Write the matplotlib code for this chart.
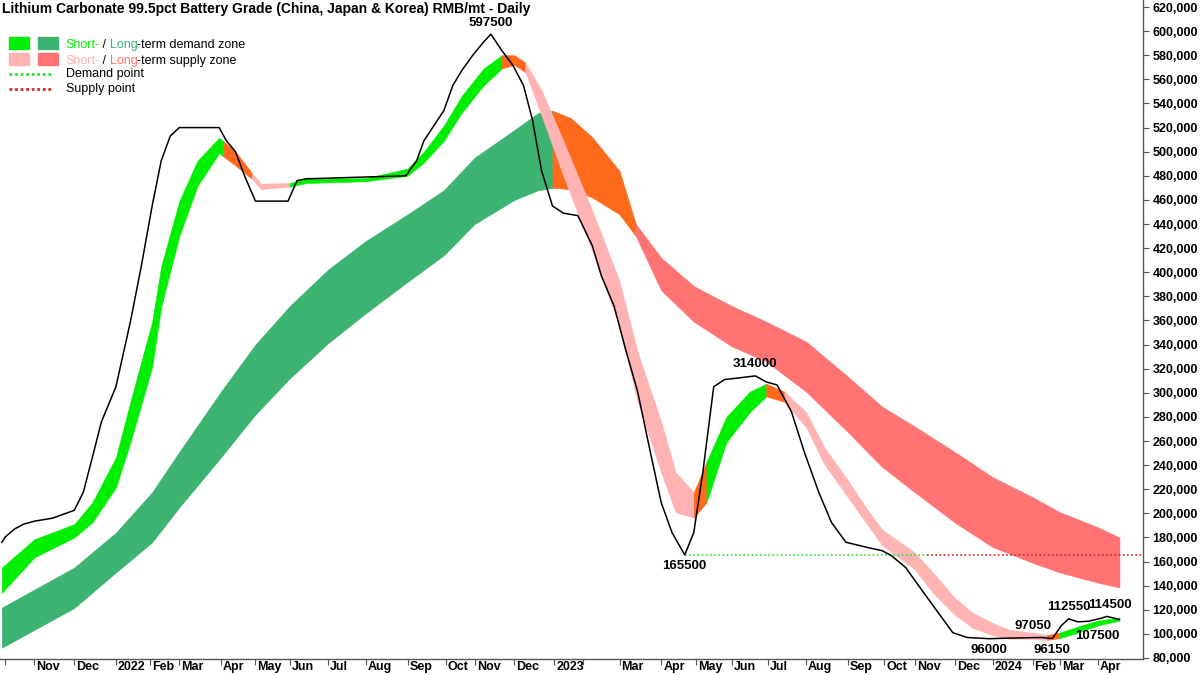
import numpy as np
import matplotlib.pyplot as plt
from matplotlib.patches import Rectangle
from matplotlib.lines import Line2D

plt.rcParams['font.family'] = ['Liberation Sans', 'DejaVu Sans']

# chinese market closures, x axis runs on trading days
holidays = ['2021-10-01', '2021-10-04', '2021-10-05', '2021-10-06', '2021-10-07',
            '2022-01-03', '2022-01-31', '2022-02-01', '2022-02-02', '2022-02-03', '2022-02-04',
            '2022-04-04', '2022-04-05', '2022-05-02', '2022-05-03', '2022-05-04', '2022-06-03',
            '2022-09-12', '2022-10-03', '2022-10-04', '2022-10-05', '2022-10-06', '2022-10-07',
            '2023-01-02', '2023-01-23', '2023-01-24', '2023-01-25', '2023-01-26', '2023-01-27',
            '2023-04-05', '2023-05-01', '2023-05-02', '2023-05-03', '2023-06-22', '2023-06-23',
            '2023-09-29', '2023-10-02', '2023-10-03', '2023-10-04', '2023-10-05', '2023-10-06',
            '2024-01-01', '2024-02-09', '2024-02-12', '2024-02-13', '2024-02-14', '2024-02-15',
            '2024-02-16', '2024-04-04', '2024-04-05']


def td(d):
    return np.busday_count('2021-09-29', np.array(d, dtype='datetime64[D]'), holidays=holidays)


"""Data"""
price_dates = ['2021-09-29', '2021-10-08', '2021-10-15', '2021-10-22', '2021-11-01', '2021-11-15',
               '2021-12-01', '2021-12-08', '2021-12-15', '2021-12-22', '2022-01-04', '2022-01-14',
               '2022-01-24', '2022-02-08', '2022-02-15', '2022-02-22', '2022-03-01', '2022-03-31',
               '2022-04-08', '2022-04-15', '2022-04-22', '2022-05-05', '2022-05-31', '2022-06-08',
               '2022-06-15', '2022-08-31', '2022-09-08', '2022-09-15', '2022-09-30', '2022-10-14',
               '2022-10-21', '2022-10-31', '2022-11-08', '2022-11-14', '2022-11-22', '2022-11-30',
               '2022-12-08', '2022-12-15', '2022-12-22', '2022-12-30', '2023-01-10', '2023-01-20',
               '2023-02-08', '2023-02-15', '2023-02-24', '2023-03-06', '2023-03-15', '2023-03-24',
               '2023-04-03', '2023-04-12', '2023-04-21', '2023-04-28', '2023-05-10', '2023-05-18',
               '2023-05-26', '2023-06-05', '2023-06-20', '2023-06-30', '2023-07-10', '2023-07-20',
               '2023-07-31', '2023-08-10', '2023-08-21', '2023-08-31', '2023-09-15', '2023-09-28',
               '2023-10-13', '2023-10-25', '2023-11-08', '2023-11-20', '2023-11-30', '2023-12-12',
               '2023-12-28', '2024-01-15', '2024-02-08', '2024-02-26', '2024-03-04', '2024-03-08',
               '2024-03-15', '2024-03-25', '2024-04-03', '2024-04-10', '2024-04-19']
price = [176000, 180500, 187000, 191000, 193500, 196000,
         202500, 217500, 246500, 276000, 305000, 359000,
         405000, 455000, 492500, 513000, 520000, 520000,
         509000, 500000, 480000, 459000, 459000, 476000,
         477500, 480000, 492500, 509000, 534000, 555000,
         567500, 580000, 591000, 597500, 584000, 572000,
         555000, 526000, 484000, 455000, 449000, 447000,
         422000, 397000, 372000, 338000, 301000, 251000,
         209000, 184000, 165500, 184000, 234000, 305000,
         311000, 312000, 314000, 309000, 306500, 284000,
         251000, 217500, 192500, 176000, 172000, 169000,
         165000, 155000, 134000, 117500, 101000, 97000,
         96000, 96500, 97000, 96150, 107000, 112550,
         110000, 110500, 113000, 114500, 112000]

short_dates = ['2021-09-29', '2021-11-01', '2021-12-01', '2021-12-15', '2022-01-04', '2022-01-14',
               '2022-02-08', '2022-02-15', '2022-03-01', '2022-03-15', '2022-03-31', '2022-04-06',
               '2022-04-15', '2022-04-28', '2022-05-10', '2022-06-01', '2022-06-15', '2022-08-01',
               '2022-09-01', '2022-09-15', '2022-09-30', '2022-10-21', '2022-11-08', '2022-11-22',
               '2022-12-01', '2022-12-09', '2022-12-22', '2023-01-10', '2023-02-08', '2023-03-01',
               '2023-03-15', '2023-04-03', '2023-04-14', '2023-04-28', '2023-05-12', '2023-05-29',
               '2023-06-15', '2023-06-30', '2023-07-14', '2023-08-01', '2023-08-15', '2023-09-01',
               '2023-09-15', '2023-09-28', '2023-11-01', '2023-11-15', '2023-12-01', '2023-12-15',
               '2024-01-02', '2024-01-15', '2024-02-01', '2024-02-21', '2024-03-01', '2024-03-15',
               '2024-04-01', '2024-04-19']
short_hi = [155000, 178500, 191000, 209000, 246500, 292500,
            359000, 405000, 459000, 492500, 511500, 509000,
            500000, 482500, 473500, 474000, 477500, 478000,
            486000, 500000, 521500, 546500, 569000, 580000,
            580000, 574000, 551000, 509000, 451000, 392500,
            334000, 276000, 234000, 217500, 242500, 280000,
            301000, 307500, 301000, 284000, 255000, 227500,
            205000, 186500, 167500, 151000, 130000, 117500,
            109000, 103500, 101000, 99000, 101000, 106000,
            111000, 113500]
short_lo = [134000, 163500, 180000, 192500, 221500, 259000,
            321500, 371500, 430000, 471500, 499000, 496500,
            488500, 477500, 469000, 471000, 474000, 475500,
            480000, 491000, 509000, 532500, 555000, 569000,
            572000, 566000, 530000, 480000, 417500, 355000,
            292500, 234000, 201000, 196500, 209000, 259000,
            284000, 297000, 292500, 271500, 241000, 213500,
            192500, 173500, 153500, 134000, 116000, 105000,
            99000, 96000, 96000, 95000, 96500, 101000,
            107000, 111000]
short_zones = [('2021-09-29', 'sd'), ('2022-04-06', 'tr'), ('2022-04-28', 'ss'),
               ('2022-06-01', 'sd'), ('2022-11-22', 'tr'), ('2022-12-09', 'ss'),
               ('2023-04-28', 'tr'), ('2023-05-12', 'sd'), ('2023-06-30', 'tr'),
               ('2023-07-14', 'ss'), ('2024-02-21', 'tr'), ('2024-03-01', 'sd')]

long_dates = ['2021-09-29', '2021-12-01', '2022-01-04', '2022-02-08', '2022-03-01', '2022-04-01',
              '2022-05-05', '2022-06-01', '2022-07-01', '2022-08-01', '2022-09-01', '2022-09-30',
              '2022-11-01', '2022-12-01', '2022-12-20', '2022-12-30', '2023-01-15', '2023-02-08',
              '2023-03-01', '2023-03-14', '2023-04-03', '2023-04-28', '2023-06-01', '2023-06-30',
              '2023-08-01', '2023-09-01', '2023-09-28', '2023-11-01', '2023-12-01', '2024-01-02',
              '2024-02-01', '2024-03-01', '2024-04-01', '2024-04-19']
long_hi = [121800, 155000, 184000, 217500, 251000, 301000,
           340000, 372000, 402000, 426000, 448000, 468000,
           495000, 518000, 532000, 534000, 528000, 512000,
           484000, 440000, 412000, 388500, 372000, 359000,
           342500, 313500, 288500, 272000, 251000, 230000,
           213500, 201000, 188500, 180000]
long_lo = [88500, 121500, 151000, 176000, 205000, 246500,
           282000, 312000, 341000, 366000, 392000, 414000,
           440000, 460000, 468000, 470000, 469000, 462000,
           448000, 430000, 385000, 359000, 338500, 326000,
           301000, 267500, 238500, 217500, 192500, 172000,
           159000, 151000, 142500, 138500]
long_zones = [('2021-09-29', 'ld'), ('2022-12-30', 'tr'), ('2023-03-14', 'ls')]

level = 165500
level_start, level_switch, level_end = '2023-04-21', '2023-11-10', '2024-05-08'

labels = [('597500', '2022-11-14', 597500, 'above'), ('165500', '2023-04-21', 165500, 'below'),
          ('314000', '2023-06-20', 314000, 'above'), ('96000', '2023-12-28', 96000, 'below'),
          ('97050', '2024-02-01', 97050, 'above'), ('96150', '2024-02-26', 96150, 'below'),
          ('112550', '2024-03-08', 112550, 'above'), ('114500', '2024-04-12', 114500, 'above'),
          ('107500', '2024-04-01', 107500, 'below')]

month_starts = ['2021-10-01', '2021-11-01', '2021-12-01', '2022-01-01', '2022-02-01', '2022-03-01',
                '2022-04-01', '2022-05-01', '2022-06-01', '2022-07-01', '2022-08-01', '2022-09-01',
                '2022-10-01', '2022-11-01', '2022-12-01', '2023-01-01', '2023-02-01', '2023-03-01',
                '2023-04-01', '2023-05-01', '2023-06-01', '2023-07-01', '2023-08-01', '2023-09-01',
                '2023-10-01', '2023-11-01', '2023-12-01', '2024-01-01', '2024-02-01', '2024-03-01',
                '2024-04-01']
month_labels = ['', 'Nov', 'Dec', '2022', 'Feb', 'Mar', 'Apr', 'May', 'Jun', 'Jul', 'Aug', 'Sep',
                'Oct', 'Nov', 'Dec', '2023', '', 'Mar', 'Apr', 'May', 'Jun', 'Jul', 'Aug', 'Sep',
                'Oct', 'Nov', 'Dec', '2024', 'Feb', 'Mar', 'Apr']

colors = {'sd': '#00ee00', 'ld': '#3cb371', 'ss': '#ffb3b3', 'ls': '#ff7373', 'tr': '#ff6a1c'}


"""Figure"""
fig = plt.figure(figsize=(12, 6.75), dpi=100)
ax = fig.add_axes([0, 16 / 675, 1143 / 1200, 659 / 675])


def band(dates, hi, lo, zones):
    x = td(dates)
    hi = np.array(hi)
    lo = np.array(lo)
    for k, (start, key) in enumerate(zones):
        i0 = dates.index(start)
        i1 = dates.index(zones[k + 1][0]) if k + 1 < len(zones) else len(dates) - 1
        sl = slice(i0, i1 + 1)
        ax.fill_between(x[sl], lo[sl], hi[sl], color=colors[key], lw=0.4, zorder=2)


band(long_dates, long_hi, long_lo, long_zones)
band(short_dates, short_hi, short_lo, short_zones)

ax.plot(td(price_dates), price, color='black', lw=1.1, zorder=4)

ax.plot(td([level_start, level_switch]), [level, level], color='#33dd33', ls=(0, (1, 1.5)), lw=1.2, zorder=3)
ax.plot(td([level_switch, level_end]), [level, level], color='#dd2222', ls=(0, (1, 1.5)), lw=1.2, zorder=3)

for txt, d, v, pos in labels:
    ax.annotate(txt, (td(d), v), xytext=(0, 4 if pos == 'above' else -4), textcoords='offset points',
                ha='center', va='bottom' if pos == 'above' else 'top', fontsize=9.5, fontweight='bold', zorder=5)

ax.set_xlim(-1, td('2024-05-08'))
ax.set_ylim(79166, 625833)

ms = td(month_starts)
ax.set_xticks(ms)
ax.set_xticklabels([])
ax.tick_params(axis='x', length=4, width=0.8, color='#555555')
for m, lab in zip(ms, month_labels):
    ax.annotate(lab, (m, 0), xycoords=('data', 'axes fraction'), xytext=(1.5, -1.5), textcoords='offset points',
                ha='left', va='top', fontsize=9, fontweight='bold')

ax.yaxis.tick_right()
ax.set_yticks(np.arange(80000, 620001, 20000))
ax.set_yticklabels([f'{v:,}' for v in range(80000, 620001, 20000)], fontsize=9, fontweight='bold')
ax.tick_params(axis='y', length=4, width=0.8, color='#555555', pad=3)

for s in ['left', 'top']:
    ax.spines[s].set_visible(False)
for s in ['right', 'bottom']:
    ax.spines[s].set_color('#555555')
    ax.spines[s].set_linewidth(1)

"""Title and legend"""
fig.text(2 / 1200, 1 - 9 / 675, 'Lithium Carbonate 99.5pct Battery Grade (China, Japan & Korea) RMB/mt - Daily',
         ha='left', va='center', fontsize=10, fontweight='bold')


def px(x, y):
    return x / 1200, 1 - y / 675


def rainbow_text(x, y, parts):
    t = fig.text(*px(x, y), parts[0][0], color=parts[0][1], fontsize=9, va='baseline', ha='left')
    for s, c in parts[1:]:
        t = ax.annotate(s, xycoords=t, xy=(1, 0), va='bottom', ha='left', color=c, fontsize=9,
                        annotation_clip=False)


for (x0, y0, key) in [(9, 37, 'sd'), (38, 37, 'ld'), (9, 53, 'ss'), (38, 53, 'ls')]:
    fig.add_artist(Rectangle(px(x0, y0 + 12), 20 / 1200, 12 / 675, transform=fig.transFigure,
                             color=colors[key]))

rainbow_text(65, 48, [('Short-', colors['sd']), (' / ', 'black'), ('Long', colors['ld']),
                      ('-term demand zone', 'black')])
rainbow_text(65, 64, [('Short-', colors['ss']), (' / ', 'black'), ('Long', colors['ls']),
                      ('-term supply zone', 'black')])
fig.add_artist(Line2D([9 / 1200, 53 / 1200], [1 - 74 / 675] * 2, transform=fig.transFigure,
                      color='#33dd33', ls=(0, (1, 1)), lw=2))
fig.add_artist(Line2D([9 / 1200, 53 / 1200], [1 - 89 / 675] * 2, transform=fig.transFigure,
                      color='#dd2222', ls=(0, (1, 1)), lw=2))
fig.text(*px(66, 74), 'Demand point', fontsize=9, va='center', ha='left')
fig.text(*px(66, 89), 'Supply point', fontsize=9, va='center', ha='left')

fig.savefig('out.png', dpi=100)
